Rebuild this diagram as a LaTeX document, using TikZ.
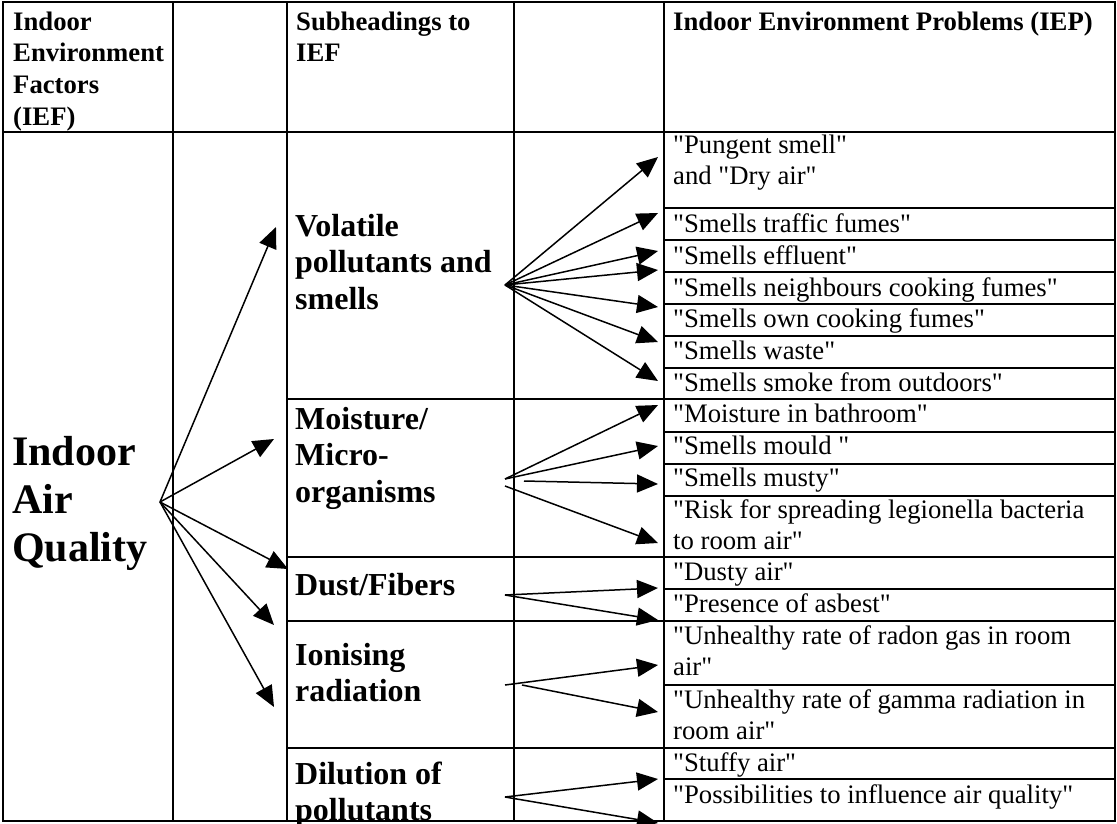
\documentclass[tikz,border=0pt]{standalone}
\usepackage{fontspec}
\setmainfont{Liberation Serif}[Ligatures=TeXOff]
\usetikzlibrary{arrows.meta}
\begin{document}
\begin{tikzpicture}[x=1pt,y=-1pt,
  grid/.style={line width=2pt},
  arr/.style={line width=1.5pt,-{Triangle[length=21pt,width=18pt]}},
  body/.style={anchor=base west,inner sep=0pt,font=\fontsize{26.7}{31.7}\selectfont},
  hdr/.style={anchor=base west,inner sep=0pt,font=\fontsize{26.7}{31.7}\selectfont\bfseries},
  subh/.style={anchor=base west,inner sep=0pt,font=\fontsize{32}{36}\selectfont\bfseries},
  ttl/.style={anchor=base west,inner sep=0pt,font=\fontsize{42}{48}\selectfont\bfseries}]
\useasboundingbox (0,0) rectangle (1117,823);
\clip (0,0) rectangle (1117,823);
% grid
\draw[grid] (3,2) rectangle (1115,821);
\draw[grid] (3,132) -- (1115,132);
\foreach \x in {173,287,514,664} \draw[grid] (\x,2) -- (\x,821);
\foreach \y in {399,557,621,748} \draw[grid] (287,\y) -- (1115,\y);
\foreach \y in {208,240,272,304,336,368,432,464,496,589,685,779} \draw[grid] (664,\y) -- (1115,\y);
% header
\node[hdr] (h1a) at (13,30) {Indoor};
\node[hdr] (h1b) at (13,61.7) {Environment};
\node[hdr] (h1c) at (13,93.4) {Factors};
\node[hdr] (h1d) at (13,125) {(IEF)};
\node[hdr] (h3a) at (296,30) {Subheadings to};
\node[hdr] (h3b) at (296,61.7) {IEF};
\node[hdr] (h5) at (673,30) {Indoor Environment Problems (IEP)};
% title
\node[ttl] (t1) at (12,465) {Indoor};
\node[ttl] (t2) at (12,513) {Air};
\node[ttl] (t3) at (12,561) {Quality};
% subheadings
\node[subh] (v1) at (295,236.5) {Volatile};
\node[subh] (v2) at (295,272.8) {pollutants and};
\node[subh] (v3) at (295,309) {smells};
\node[subh] (m1) at (295,429.5) {Moisture/};
\node[subh] (m2) at (295,465.8) {Micro-};
\node[subh] (m3) at (295,502) {organisms};
\node[subh] (d1) at (295,595) {Dust/Fibers};
\node[subh] (i1) at (295,665) {Ionising};
\node[subh] (i2) at (295,701.3) {radiation};
\node[subh] (l1) at (295,784) {Dilution of};
\node[subh] (l2) at (295,820) {pollutants};
% problems
\node[body] (p1) at (673,153) {"Pungent smell"};
\node[body] (p1b) at (673,184.5) {and "Dry air"};
\node[body] (p2) at (673,232) {"Smells traffic fumes"};
\node[body] (p3) at (673,264) {"Smells effluent"};
\node[body] (p4) at (673,296) {"Smells neighbours cooking fumes"};
\node[body] (p5) at (673,327.5) {"Smells own cooking fumes"};
\node[body] (p6) at (673,359.5) {"Smells waste"};
\node[body] (p7) at (673,391) {"Smells smoke from outdoors"};
\node[body] (q1) at (673,422) {"Moisture in bathroom"};
\node[body] (q2) at (673,454) {"Smells mould "};
\node[body] (q3) at (673,486) {"Smells musty"};
\node[body] (q4) at (673,518) {"Risk for spreading legionella bacteria};
\node[body] (q4b) at (673,549.5) {to room air"};
\node[body] (r1) at (673,580) {"Dusty air"};
\node[body] (r2) at (673,612) {"Presence of asbest"};
\node[body] (s1) at (673,644) {"Unhealthy rate of radon gas in room};
\node[body] (s1b) at (673,675.5) {air"};
\node[body] (s2) at (673,708) {"Unhealthy rate of gamma radiation in};
\node[body] (s2b) at (673,739.5) {room air"};
\node[body] (u1) at (673,771) {"Stuffy air"};
\node[body] (u2) at (673,803) {"Possibilities to influence air quality"};
% connector points
\coordinate (S0) at (160,502);
\coordinate (T1) at (276,227);
\coordinate (T2) at (274,439);
\coordinate (T3) at (288,569);
\coordinate (T4) at (274,625);
\coordinate (T5) at (274,707);
\coordinate (S1) at (505,285);
\coordinate (A1) at (658,157);
\coordinate (A2) at (658,213);
\coordinate (A3) at (658,251);
\coordinate (A4) at (658,270);
\coordinate (A5) at (658,307);
\coordinate (A6) at (658,342);
\coordinate (A7) at (658,381);
\coordinate (S2) at (505,479);
\coordinate (S2b) at (524,481);
\coordinate (S2c) at (505,486);
\coordinate (B1) at (658,405);
\coordinate (B2) at (658,446);
\coordinate (B3) at (658,484);
\coordinate (B4) at (658,543);
\coordinate (S3) at (505,595);
\coordinate (C1) at (658,588);
\coordinate (C2) at (658,620);
\coordinate (S4) at (505,685);
\coordinate (S4b) at (522,685);
\coordinate (D1) at (658,665);
\coordinate (D2) at (658,712);
\coordinate (S5) at (505,797);
\coordinate (E1) at (658,779);
\coordinate (E2) at (658,823);
% arrows
\foreach \t in {T1,T2,T3,T4,T5} \draw[arr] (S0) -- (\t);
\foreach \t in {A1,A2,A3,A4,A5,A6,A7} \draw[arr] (S1) -- (\t);
\draw[arr] (S2) -- (B1);
\draw[arr] (S2) -- (B2);
\draw[arr] (S2b) -- (B3);
\draw[arr] (S2c) -- (B4);
\draw[arr] (S3) -- (C1);
\draw[arr] (S3) -- (C2);
\draw[arr] (S4) -- (D1);
\draw[arr] (S4b) -- (D2);
\draw[arr] (S5) -- (E1);
\draw[arr] (S5) -- (E2);
\end{tikzpicture}
\end{document}
